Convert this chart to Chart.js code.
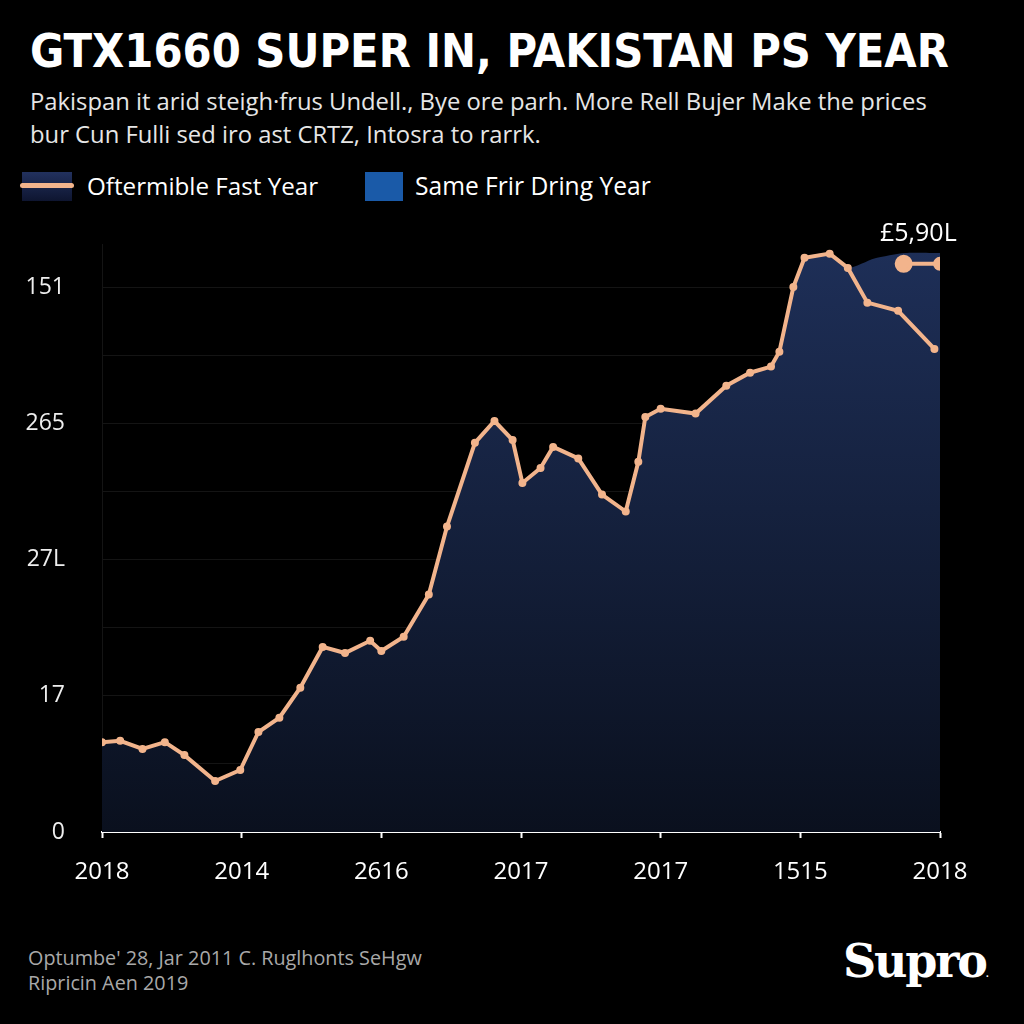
<!DOCTYPE html>
<html>
<head>
<meta charset="utf-8">
<script src="https://cdn.jsdelivr.net/npm/chart.js@4.4.1/dist/chart.umd.min.js"></script>
<style>
  body { margin: 0; background: #000; }
  .page { position: relative; width: 1024px; height: 1024px; overflow: hidden; background: #000; font-family: "Open Sans", sans-serif; }
  .titre { position: absolute; left: 30px; top: 24px; font-family: "DejaVu Sans Condensed", "DejaVu Sans", sans-serif; font-weight: bold; font-size: 46.5px; color: #fff; white-space: nowrap; }
  .sous-titre { position: absolute; left: 30px; top: 85px; font-size: 23.8px; line-height: 33px; color: #e6e6e6; white-space: nowrap; }
  .legende { position: absolute; top: 170px; height: 32px; color: #fff; white-space: nowrap; }
  .legende span { position: absolute; top: 0; line-height: 32px; }
  .boite-ligne { position: absolute; left: 22px; top: 172px; width: 50px; height: 29px; background: linear-gradient(#22315e, #0e1530); }
  .boite-ligne::after { content: ""; position: absolute; left: -2px; right: -2px; top: 11px; height: 5px; border-radius: 3px; background: #f2b48c; }
  .boite-bleue { position: absolute; left: 365px; top: 172px; width: 38px; height: 29px; background: #1a5aa8; }
  .annotation { position: absolute; left: 880px; top: 214px; font-size: 25px; color: #fff; }
  .pied { position: absolute; left: 28px; top: 945px; font-size: 19.8px; line-height: 25px; color: #a9a9a9; white-space: nowrap; }
  .logo { position: absolute; left: 843px; top: 934px; font-family: "DejaVu Serif", serif; font-weight: 900; font-size: 46px; color: #fff; letter-spacing: -2.2px; }
  .logo small { font-size: 9px; letter-spacing: 0; }
  #zone { position: absolute; left: 0; top: 194px; width: 1024px; height: 706px; }
</style>
</head>
<body>
<div class="page">
  <div class="titre">GTX1660 SUPER IN, PAKISTAN PS YEAR</div>
  <div class="sous-titre">Pakispan it arid steigh·frus Undell., Bye ore parh. More Rell Bujer Make the prices<br>bur Cun Fulli sed iro ast CRTZ, Intosra to rarrk.</div>
  <div class="boite-ligne"></div>
  <div class="legende" style="left:0; font-size:24.2px"><span style="left:87px">Oftermible Fast Year</span></div>
  <div class="boite-bleue"></div>
  <div class="legende" style="left:0; font-size:24.6px"><span style="left:415px">Same Frir Dring Year</span></div>
  <div id="zone"><canvas id="graphique-prix"></canvas></div>
  <div class="annotation">£5,90L</div>
  <div class="pied">Optumbe' 28, Jar 2011 C. Ruglhonts SeHgw<br>Ripricin Aen 2019</div>
  <div class="logo">Supro<small>.</small></div>
</div>
<script>
// Libellés des axes
const xLabels = ["2018", "2014", "2616", "2017", "2017", "1515", "2018"]
const yLabels = { 0: "0", 2: "17", 4: "27L", 6: "265", 8: "151" }

// Courbe principale (position x en intervalles de l'axe, valeur y)
const prixX = [0, 0.13, 0.29, 0.45, 0.59, 0.81, 0.99, 1.12, 1.27, 1.42, 1.58, 1.74, 1.92, 2.0, 2.16, 2.34,
    2.47, 2.67, 2.81, 2.94, 3.01, 3.14, 3.23, 3.41, 3.58, 3.75, 3.84, 3.89, 4.0, 4.25, 4.47, 4.64, 4.79,
    4.85, 4.95, 5.03, 5.21, 5.34, 5.48, 5.70, 5.96]
const prixY = [1.32, 1.34, 1.22, 1.32, 1.13, 0.75, 0.91, 1.47, 1.68, 2.12, 2.72, 2.63, 2.81, 2.66, 2.87, 3.49,
    4.49, 5.72, 6.04, 5.76, 5.13, 5.35, 5.66, 5.49, 4.96, 4.71, 5.44, 6.10, 6.22, 6.15, 6.56, 6.75, 6.84,
    7.06, 8.01, 8.44, 8.50, 8.29, 7.78, 7.66, 7.10]

// Zone remplie (suit la courbe puis monte à droite)
const zoneX = prixX.slice(0, 38).concat([5.53, 5.75, 6.0])
const zoneY = prixY.slice(0, 38).concat([8.43, 8.51, 8.51])

// Petit segment d'annotation
const annotX = [5.74, 6.0]
const annotY = [8.35, 8.35]

const peche = "#f2b48c"

function points(xs, ys) {
    return xs.map((x, i) => ({ x: x, y: ys[i] }))
}

function degradeZone(context) {
    const chart = context.chart
    const zone = chart.chartArea
    if (!zone) return "#16213d"
    const g = chart.ctx.createLinearGradient(0, zone.top, 0, zone.bottom)
    g.addColorStop(0, "rgba(30, 47, 88, 1)")
    g.addColorStop(1, "rgba(10, 16, 30, 1)")
    return g
}

const data = {
    datasets: [
        {
            label: "Oftermible Fast Year",
            data: points(prixX, prixY),
            borderColor: peche,
            backgroundColor: peche,
            borderWidth: 4,
            pointRadius: 2,
            pointHoverRadius: 2,
            fill: false,
            tension: 0,
            order: 1
        },
        {
            label: "Same Frir Dring Year",
            data: points(zoneX, zoneY),
            borderWidth: 0,
            pointRadius: 0,
            backgroundColor: degradeZone,
            fill: "origin",
            tension: 0.2,
            order: 3
        },
        {
            label: "annotation",
            data: points(annotX, annotY),
            borderColor: peche,
            backgroundColor: peche,
            borderWidth: 4,
            pointRadius: [7, 5],
            fill: false,
            order: 0
        }
    ]
}

const config = {
    type: "line",
    data: data,
    options: {
        responsive: true,
        maintainAspectRatio: false,
        animation: false,
        layout: { padding: { top: 5, right: 84, left: 0, bottom: 0 } },
        plugins: { legend: { display: false }, tooltip: { enabled: false } },
        scales: {
            x: {
                type: "linear",
                min: 0,
                max: 6,
                afterFit: (scale) => { scale.height = 68 },
                ticks: {
                    stepSize: 1,
                    color: "#fff",
                    padding: 20,
                    maxRotation: 0,
                    font: { family: "Open Sans", size: 24 },
                    callback: (v) => xLabels[v] ?? ""
                },
                grid: { drawOnChartArea: false, drawTicks: true, tickLength: 6, tickColor: "#fff", tickWidth: 2 },
                border: { color: "#fff", width: 2 }
            },
            y: {
                min: 0,
                max: 8.63,
                afterFit: (scale) => { scale.width = 102 },
                afterBuildTicks: (scale) => { scale.ticks = scale.ticks.filter(t => Number.isInteger(t.value)) },
                ticks: {
                    stepSize: 1,
                    color: "#eee",
                    padding: 37,
                    font: { family: "Open Sans", size: 23 },
                    callback: (v) => yLabels[v] ?? ""
                },
                grid: { color: "rgba(255,255,255,0.08)", drawTicks: false },
                border: { color: "rgba(255,255,255,0.08)" }
            }
        }
    }
}

const graphiquePrix = new Chart(document.querySelector("#graphique-prix"), config)
</script>
</body>
</html>
